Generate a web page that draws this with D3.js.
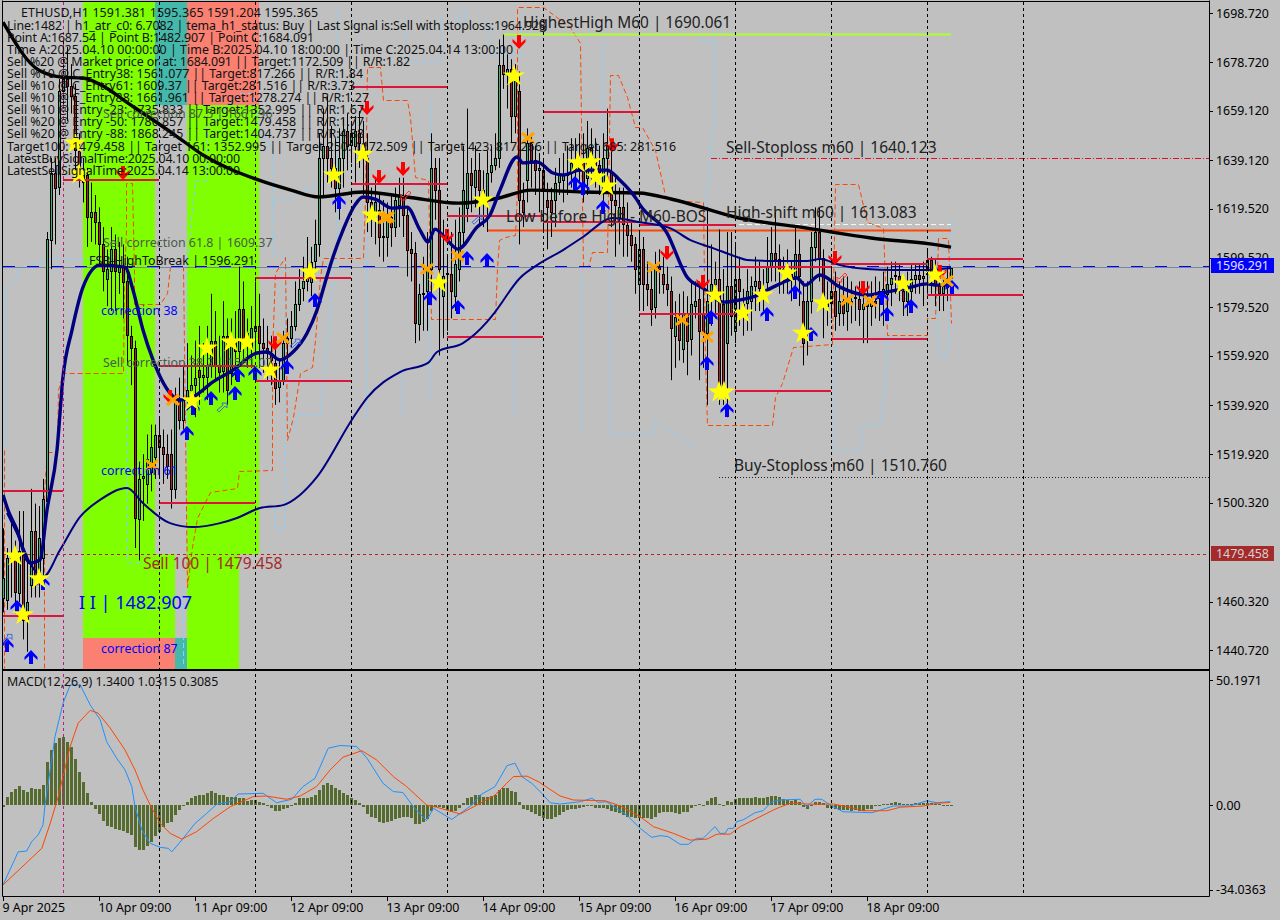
<!DOCTYPE html>
<html><head><meta charset="utf-8">
<script src="https://cdn.jsdelivr.net/npm/d3@7"></script>
<style>html,body{margin:0;padding:0;background:#c0c0c0}svg{display:block}text{font-family:"Noto Sans",Tahoma,sans-serif}</style>
</head><body><svg id="c" width="1280" height="920"></svg>
<script>
// ---- candles [open, high, low, close], by bar index
const bars9Apr = [[1462,1490,1456,1470],[1461,1482,1457,1478],[1478,1492,1462,1477],[1477,1485,1460,1464],[1464,1497,1460,1481],[1481,1497,1445,1453],[1453,1479,1440,1460],[1467,1506,1462,1489],[1489,1500,1462,1471],[1471,1499,1462,1486],[1478,1510,1470,1502],[1501,1610,1498,1607],[1607,1640,1595,1634],[1634,1640,1605,1628],[1628,1672,1625,1667]];
const bars10Apr = [[1667,1687.5,1660,1672],[1672,1685,1655,1669],[1669,1678,1658,1665],[1665,1670,1635,1643],[1643,1650,1628,1633],[1633,1640,1622,1630],[1633,1636,1604,1616],[1616,1630,1606,1618],[1618,1625,1605,1614],[1614,1620,1597,1605],[1605,1612,1586,1594],[1591,1603,1580,1595],[1594,1612,1578,1603],[1603,1609,1578,1594],[1594,1606,1585,1596],[1596,1605,1575,1590],[1590,1600,1556,1568],[1568,1572,1548,1563],[1563,1566,1482,1494],[1494,1517,1477,1510],[1510,1520,1493,1511],[1508,1528,1500,1518],[1513,1532,1505,1523],[1519,1532,1510,1528]];
const bars11Apr = [[1528,1535,1511,1523],[1523,1530,1508,1520],[1520,1528,1510,1515],[1520,1530,1498,1506],[1506,1547,1502,1542],[1542,1551,1530,1534],[1534,1556,1530,1542],[1542,1565,1538,1546],[1546,1560,1538,1548],[1548,1566,1535,1551],[1554,1572,1540,1551],[1551,1565,1545,1552],[1551,1572,1542,1556],[1556,1585,1551,1566],[1566,1578,1550,1556],[1556,1568,1545,1553],[1554,1582,1545,1568],[1568,1575,1540,1546],[1553,1575,1548,1566],[1566,1578,1550,1562],[1562,1596,1557,1579],[1579,1590,1558,1566],[1566,1575,1555,1569],[1563,1580,1555,1571]];
const bars12Apr = [[1570,1590,1560,1572],[1572,1585,1555,1565],[1565,1575,1553,1563],[1563,1572,1550,1561],[1561,1568,1548,1558],[1557,1565,1540,1547],[1547,1558,1541,1550],[1550,1570,1548,1565],[1565,1575,1555,1567],[1567,1578,1563,1572],[1572,1590,1570,1581],[1581,1595,1578,1587],[1587,1600,1582,1590],[1590,1608,1586,1593],[1590,1604,1584,1598],[1598,1615,1595,1605],[1605,1650,1600,1640],[1640,1660,1625,1645],[1645,1665,1630,1640],[1640,1653,1628,1636],[1636,1648,1618,1628],[1628,1652,1615,1640],[1640,1656,1628,1651],[1651,1658,1635,1645]];
const bars13Apr = [[1645,1655,1638,1650],[1645,1657,1630,1651],[1650,1659,1636,1646],[1646,1655,1625,1640],[1640,1650,1610,1622],[1622,1628,1608,1618],[1618,1632,1605,1622],[1619,1625,1600,1608],[1608,1623,1598,1608.5],[1608,1622,1600,1616],[1616,1625,1604,1612],[1612,1628,1608,1623],[1621,1632,1612,1625],[1625,1632,1608,1617],[1617,1620,1592,1603],[1603,1610,1590,1601.5],[1601.5,1606,1565,1573],[1573,1589,1566,1585],[1585,1600,1570,1585.5],[1586,1610,1570,1595],[1595,1650,1585,1636],[1636,1640,1615,1627],[1627,1640,1560,1595],[1584,1615,1567,1592]];
const bars14Apr = [[1593,1600,1570,1593.5],[1593,1610,1575,1586],[1584,1615,1578,1597],[1595,1620,1590,1610],[1610,1645,1605,1627],[1620,1660,1614,1634],[1634,1640,1618,1629],[1628,1645,1620,1635],[1635,1642,1612,1627],[1627,1635,1612,1625],[1623,1643,1610,1634],[1634,1645,1630,1637],[1637,1650,1635,1640],[1640,1688,1636,1677.5],[1677.5,1690,1668,1674],[1674,1682,1660,1676],[1676,1680,1646,1657],[1657,1678,1650,1671],[1667,1675,1605,1623],[1623,1630,1612,1618],[1631,1652,1622,1646],[1646,1650,1628,1639],[1639,1645,1625,1635],[1635,1642,1618,1636]];
const bars15Apr = [[1635,1640,1610,1627],[1623,1630,1603,1620],[1623,1628,1608,1618],[1623,1636,1612,1630],[1630,1640,1625,1633],[1631,1642,1622,1633],[1633,1645,1625,1634],[1634,1648,1628,1638],[1638,1648,1628,1636],[1636,1650,1630,1638],[1638,1650,1622,1630],[1632,1655,1625,1644],[1644,1652,1630,1640],[1640,1648,1628,1637],[1637,1645,1625,1634],[1626,1650,1620,1640],[1640,1660,1632,1645],[1634,1645,1612,1623],[1623,1632,1600,1621],[1616,1628,1605,1620],[1620,1628,1600,1613],[1613,1622,1600,1609],[1609,1615,1598,1605],[1605,1608,1585,1595]];
const bars16Apr = [[1589,1610,1578,1603],[1603,1608,1578,1589],[1589,1598,1580,1587],[1587,1595,1572,1579],[1580,1602,1575,1596],[1596,1603,1585,1595],[1593,1600,1585,1589],[1589,1596,1580,1587],[1586,1592,1550,1571],[1568,1582,1555,1575.5],[1575,1585,1558,1566],[1563,1586,1557,1577],[1577,1584,1552,1566],[1567,1590,1560,1581],[1580,1590,1575,1582],[1583,1590,1550,1570],[1577,1590,1555,1569],[1569,1620,1540,1582],[1586,1605,1572,1589],[1589,1598,1575,1591],[1591,1611,1540,1547],[1581,1595,1540,1547],[1565,1610,1535,1588],[1588,1610,1568,1576]];
const bars17Apr = [[1570,1605,1565,1591],[1591,1600,1572,1586],[1581,1587,1568,1578],[1581,1595,1570,1586],[1582,1592,1570,1588],[1588,1600,1578,1590],[1590,1598,1578,1587],[1587,1595,1578,1585],[1590,1608,1585,1596],[1596,1612,1590,1601.5],[1601.5,1618,1590,1599],[1599,1605,1585,1594.5],[1594.5,1600,1585,1595],[1595,1603,1585,1593],[1593,1598,1582,1592],[1592,1612,1585,1601],[1601,1607,1580,1592],[1582,1590,1556,1565],[1569,1590,1560,1582],[1582,1610,1577,1604],[1604,1620,1598,1610],[1610,1620,1590,1599.5],[1599.5,1603,1567,1580],[1580,1590,1572,1582]];
const bars18Apr = [[1581,1595,1575,1586],[1586,1594,1570,1576],[1577,1590,1572,1582],[1582,1592,1572,1577],[1578,1592,1570,1582],[1582,1590,1573,1581],[1583,1588,1574,1583.5],[1583,1590,1572,1579],[1579,1587,1565,1581],[1581,1590,1565,1580],[1580,1590,1572,1582],[1582,1592,1575,1581],[1583,1590,1574,1586],[1584,1594,1572,1587],[1585,1596,1578,1589],[1589,1598,1580,1591.5],[1592,1598,1585,1592.5],[1592,1597,1582,1590],[1586,1592,1576,1582],[1582,1594,1576,1586],[1586,1597,1580,1591],[1591,1597,1585,1592.5],[1592.5,1597,1585,1591],[1591,1598,1580,1592]];
const bars19Apr = [[1593,1603,1585,1598.5],[1598.5,1600,1585,1593],[1593,1599,1580,1589],[1588,1594,1578,1585],[1585,1592,1578,1588],[1588,1596,1582,1591.5],[1591.381,1595.365,1591.204,1595.365]];
const candles = [].concat(bars9Apr,bars10Apr,bars11Apr,bars12Apr,bars13Apr,bars14Apr,bars15Apr,bars16Apr,bars17Apr,bars18Apr,bars19Apr);

// ---- moving averages [bar, price]
const slowBlack = [[0,1695],[9,1675.5],[15,1672.7],[20,1672.4],[24,1670],[32,1661.4],[43,1649.3],[50,1641.2],[64,1631],[72,1627],[79,1624.2],[90,1626.2],[101,1624.2],[114,1621.7],[124,1623.8],[132,1627],[145,1626.2],[159,1625.8],[167,1623.4],[184,1615.7],[201,1611.6],[217,1607.6],[234,1604.7],[237,1603.9]];
const fastNavy = [[0,1503.5],[1.25,1497.4],[3.5,1489.3],[6,1477.2],[6.75,1476],[9.25,1477.2],[11,1497.4],[13.5,1521.7],[15,1551.3],[17.25,1570.3],[20,1587.7],[24.25,1596.6],[30.5,1595.8],[32.5,1586.5],[35,1570.3],[37.5,1558.2],[41.75,1544.8],[44.25,1542],[47.5,1543.2],[52.5,1549.3],[57.5,1554.1],[63.5,1561],[66,1561.4],[69.25,1558.2],[72.5,1561.4],[76,1569],[78.5,1578.4],[80.5,1589.4],[82.5,1599.9],[85,1610.8],[88,1621],[90,1624.2],[93.5,1623],[97.25,1619.7],[101,1620.1],[104.25,1610.8],[106.25,1606],[108,1611.2],[111,1606.8],[113.75,1603.1],[118.5,1612],[121.75,1616.9],[124.25,1627],[128.5,1640.4],[130,1638],[133.5,1638.4],[137.5,1633.9],[140,1633.1],[144.25,1635.1],[151,1635.1],[154.25,1631],[158.5,1623],[159.25,1621],[166,1609.6],[171,1591.8],[175,1587.3],[180,1581.6],[184.25,1582.5],[187.5,1583.7],[192.5,1587.7],[198.5,1591.4],[200.5,1588.5],[204.25,1592.6],[209.25,1587.7],[216,1584.5],[219.25,1585.3],[226,1587.3],[231,1589],[233.5,1588.5],[236.75,1588.5]];
const midNavy = [[1,1496.2],[4.25,1485.3],[6.75,1476],[10,1470.3],[14.25,1481.2],[19.25,1494.6],[24.25,1501.5],[31,1506.3],[35,1500.2],[41.75,1492.1],[47.5,1490.5],[54.25,1492.1],[58.5,1494.2],[64.25,1498.2],[70,1499.4],[74.25,1503.5],[78.5,1510.8],[87.5,1534.7],[91,1542.8],[99.25,1553.3],[106.25,1557],[108.5,1561.4],[115,1565],[121,1573.6],[123,1577.6],[129.25,1591.4],[133.5,1596.6],[140,1602.7],[145,1608],[152.5,1615.7],[159.25,1614],[166.75,1611.6],[171.75,1606.8],[177.5,1603.5],[183.5,1599.9],[186,1598.7],[192.5,1598.3],[201,1598.3],[204.25,1599.1],[209.25,1596.6],[216,1595],[222.5,1594.6],[231,1594.6],[237,1595.4]];

// ---- stepped envelopes [bar, price]
const orangeEnvLeft = [[0.25,1521.7],[0.25,1433.4]];
const orangeEnv = [[10.25,1433.4],[10.25,1505.5],[11,1520.9],[13.5,1520.9],[13.75,1546],[15,1552.9],[30,1552.9],[30.25,1591.4],[30.75,1610.8],[30.75,1629.9],[32.25,1629.9],[32.75,1593.4],[32.75,1580.8],[39.25,1580.8],[41,1585.3],[41.75,1595.8],[45,1595.8],[46,1466.2],[47.25,1482.4],[48.5,1494.2],[51.75,1504.7],[58.5,1506.3],[59,1513.2],[67.25,1513.6],[67.25,1561],[68,1593.4],[70.5,1599.9],[71,1525.8],[72.5,1535.1],[74.25,1552.9],[77.25,1555.3],[78,1566.3],[79.25,1591.8],[80,1599.5],[90,1599.5],[90.5,1623],[91,1676.8],[94.25,1676.8],[95,1663.5],[101,1663.5],[101.75,1656.6],[103,1632.3],[106.25,1631],[107,1574.8],[123,1574.8],[123.5,1595.4],[124,1606.8],[125.5,1608],[128,1608.8],[128.5,1627],[128.5,1701],[135,1701],[141.75,1693],[144.25,1686.5],[144.75,1623],[145,1595.8],[146.25,1595.8],[147.25,1601.9],[151,1601.9],[151.25,1623],[151.75,1673.6],[153.75,1673.6],[156,1664.7],[158,1652.5],[159.75,1652.5],[163,1643.2],[165.5,1625],[166.75,1623],[175,1622.2],[175.5,1559.4],[176,1531.8],[192.25,1531.8],[193,1543.2],[194.75,1548.9],[197.5,1563.4],[207.25,1564.6],[208,1629.4],[213.75,1629.4],[216,1614],[220,1611.6],[221,1568.3],[231,1568.3],[231,1575.2],[233,1575.2],[233.5,1593.4],[233.75,1607.6],[236.25,1607.6],[237,1573.2]];
const blueEnvA = [[0.5,1586.5],[0.5,1493.4]];
const blueEnvB = [[0.5,1586.5],[3,1590.6],[3.5,1594.6],[10,1598.7],[15,1599.5],[31,1599.5],[31,1476.4],[35,1476.4]];
const blueEnvC = [[45,1435.4],[45,1466.2]];
const blueEnvD = [[45.75,1517.7],[45.75,1594.6],[48,1631],[51,1631],[51,1652.5],[53.5,1656.6],[59.25,1666.3],[62.25,1666.3],[64.25,1650.1],[67.25,1644.4],[67.5,1601.5],[70.5,1599.9],[70.5,1490.1],[68,1490.1],[68,1498.6]];
const blueEnvE = [[67.25,1623],[72.5,1624.2],[76.75,1628.2],[79.25,1628.2]];
const blueEnvF = [[72.5,1529.8],[73.5,1535.9],[79.25,1535.9],[83.5,1610.8],[83.5,1699.9]];
const blueEnvG = [[91,1663.5],[91,1533.9]];
const blueEnvH = [[100,1554.1],[100,1533.9]];
const blueEnvI = [[106.25,1595.8],[106.25,1542]];
const blueEnvJ = [[106.75,1663.5],[106.75,1616.1]];
const blueEnvK = [[100.5,1695.9],[100.5,1679.7],[109.25,1679.7],[109.25,1697.9]];
const blueEnvL = [[113.75,1701],[113.75,1694.7],[115.5,1694.7],[115.5,1701]];
const blueEnvM = [[121,1695.9],[121.75,1681.7],[129.25,1681.7],[129.25,1695.9]];
const blueEnvN = [[128,1618.9],[128,1533.9]];
const blueEnvO = [[150,1687.8],[150,1610.8]];
const blueEnvP = [[144.25,1592.6],[144.25,1529.8]];
const blueEnvQ = [[151.75,1594.6],[151.75,1527.8],[161.75,1527.8],[163,1533.9],[174.25,1521.7]];
const blueEnvR = [[174.25,1687.8],[178,1687.8],[178,1663.5],[176,1627],[176,1582.5]];
const blueEnvS = [[208,1564.6],[208,1521.7],[214.25,1521.7],[214.25,1531.8],[219.25,1531.8],[221,1558.2],[221,1590.6]];
const blueEnvT = [[233,1609.6],[233.75,1559.4],[236,1559.4],[237,1595.8],[237,1616.1]];
const blueEnvs = [blueEnvA,blueEnvB,blueEnvC,blueEnvD,blueEnvE,blueEnvF,blueEnvG,blueEnvH,blueEnvI,blueEnvJ,blueEnvK,blueEnvL,blueEnvM,blueEnvN,blueEnvO,blueEnvP,blueEnvQ,blueEnvR,blueEnvS,blueEnvT];

// ---- signal markers [bar, price]
const starSignals = [[3,1478.8],[5,1455],[9,1469.5],[18,1646],[19,1633.5],[47.25,1541.6],[51,1563],[57,1565.4],[61,1565.4],[66.75,1554.1],[76.75,1593.8],[82.75,1633.1],[90,1641.6],[92.25,1616.9],[109,1589.4],[120,1623],[127.75,1673.2],[143.75,1638],[147,1638.4],[148.25,1632.3],[151,1628.6],[178,1584.5],[179,1545.2],[180.25,1545.2],[185,1577.2],[190,1584.5],[196,1593.4],[200,1569],[205,1581.2],[225,1588.9],[233,1592.6]];
const buyArrows = [[3.5,1458.1],[1,1442.7],[7,1437.9],[10,1467.9],[46,1528.6],[47.5,1538.7],[52,1542.8],[58,1544.8],[58.75,1552.1],[63,1552.9],[71,1555.3],[78,1582.5],[84,1622.2],[106.75,1583.3],[113.75,1579.6],[116,1599.5],[121,1598.7],[143,1629.9],[145,1627.8],[150,1620.1],[176,1557],[177,1575.6],[181,1537.9],[191,1576.8],[198,1585.7],[202,1568.7],[219.75,1583.3],[221,1576.8],[227,1580],[237.25,1587.7]];
const sellArrows = [[30,1633.9],[41.75,1543.2],[68,1565],[91,1660.2],[94,1632.3],[100,1635.5],[111,1608.4],[129,1687],[152.25,1645.2],[166,1601.5],[175,1589.8],[208,1599.5],[215,1587.3],[234.25,1593.8]];
const crossMarks = [[37.25,1515.6],[42.5,1542],[70,1567.1],[95.5,1615.7],[96.25,1616.1],[106,1595],[113.75,1600.3],[131.25,1648.1],[162.75,1595.8],[169.75,1574.4],[176,1567.5],[211,1582.5],[216.75,1582.1],[236,1590.2]];
const hollowBuy = [[54.75,1538.7],[73,1564.6],[118.5,1614.8],[1,1445]];
const hollowSell = [[100.75,1625],[209.75,1591.8]];

// ---- horizontal levels [from bar, to bar, price]
const crimsonLevels = [[0,15,1505.1],[0,15,1454.5],[15,39,1631.1],[39,63,1555.7],[39,63,1500.3],[63,87,1591.4],[63,87,1549.7],[87,111,1668.7],[87,111,1629.4],[111,135,1616.5],[111,135,1567.5],[135,159,1658.6],[135,159,1614],[159,183,1576.8],[159,183,1612.8],[183,207,1595.8],[183,207,1545.6],[207,231,1597],[207,231,1566.7],[231,255,1599.1],[231,255,1584.5]];

// ---- zones [from bar, to bar, top price, bottom price, colour]
const zones = [[20,38,1705,1479.458,"#7fff00"],[20,43,1479.458,1445.6,"#7fff00"],[20,43,1445.6,1430,"#fa8072"],[43,46,1445.6,1430,"#45b8ac"],[38,46,1705,1661.4,"#45b8ac"],[46,64,1705,1661.4,"#fa8072"],[46,64,1661.4,1479.458,"#7fff00"],[46,59,1479.458,1430,"#7fff00"]];

// ---- MACD
const macdHist = [-0.7,3.3,5.1,6.4,7.6,6,5.4,6.7,6.3,6.4,8,17.4,22.1,24.8,26.8,27.2,25.4,23.4,18.5,13.4,9.4,4.7,1.3,-1.6,-3.7,-6.4,-8.3,-8.7,-9.8,-10,-10.4,-11.4,-12,-16.7,-18.1,-18.1,-16.3,-15,-12.3,-10.7,-8.7,-7.4,-6.7,-4,-2,-0.3,1.3,2.9,3.6,4,4,4.7,5.6,4.7,4,4,3.3,3.3,3.3,2.9,2.7,1.6,2,2,1.1,0.7,-0.3,-1.1,-2.4,-2.4,-1.6,-1.1,-0.4,0.7,2.7,2.9,2.9,3.3,4,6,8,8.7,8,7,6,4.7,4,2.9,2,0.9,-0.7,-3.7,-4.7,-5.4,-7,-7.1,-7,-6.4,-5.6,-5.1,-4.7,-5,-5.4,-7.5,-7.5,-7,-5.6,-2.4,-0.7,-0.7,-1.3,-2,-2.9,-2.4,-1.3,0.7,2.7,3.3,4,4,
3.3,3.3,3.8,4,6,6.7,6.7,5.6,5.1,1.3,-1.6,-2,-2.7,-3.7,-4.3,-5.4,-5.6,-5.6,-4.7,-4,-2.7,-2,-1.6,-1.6,-1.3,-0.7,-0.3,-0.3,-1.1,-1.1,-1.1,-1.6,-2.4,-2.7,-3.3,-4,-4.7,-4.7,-5.1,-5.1,-5.1,-5.4,-5.6,-4.7,-3.3,-2.7,-2.9,-2.9,-3.3,-3.6,-2.9,-2.7,-1.3,-0.3,0.3,-0.3,1.6,2.7,3.3,0.4,-0.3,1.6,1.3,2.4,2.7,2.7,2.9,2.9,3.3,2.9,2.9,3.3,3.8,3.8,3.3,2.4,2,1.6,2,1.3,-0.9,-1.6,-0.3,1.3,1.3,0.7,-1.1,-1.3,-1.6,-2,-2,-2,-2.4,-2,-2.4,-2.4,-1.6,-1.6,-0.4,-0.3,0.3,0.3,0.8,1.2,0.7,0.3,0.3,0.3,0.7,0.8,0.8,0.7,0.8,0.4,0.3,-0.3,-0.1,-0.1];
const macdLine = [[0,-32.1],[3.8,-18.8],[5.9,-18.5],[7.2,-14.7],[8.8,-12],[10,-8],[10.5,0],[11.8,14.1],[13,27.5],[15,40.8],[16.8,48.2],[19.3,48.2],[21.8,40.2],[24.3,34.2],[25.9,25.5],[28.4,18.8],[30.5,14.1],[32.2,7.4],[33,-0.7],[34.7,-10],[36.8,-15.4],[39.3,-17],[41.3,-17.4],[42.2,-18.8],[44.7,-14.1],[48,-7.4],[50.9,-3.4],[53.4,0.3],[56.8,1.3],[58.8,4.4],[65,4.7],[68.4,0.9],[72.2,2.3],[75,7.4],[78,10.7],[81.3,22.8],[84.3,23.9],[88.4,23.5],[91,18.8],[95,8.7],[97.6,5.4],[100,5],[102.6,-0.7],[105.9,-6.3],[107.6,-1.3],[112.2,-5.8],[115.5,-2],[117.2,0],[119.3,4],[123,7.4],[126,15.8],[128,16.8],[129.7,11.4],[132.2,8.7],[134.7,4.7],[136.8,0.9],[139.3,0.4],[144.3,1.3],[147.2,2.7],[148.8,1.1],[150.9,1.3],[155.9,-4],[159.3,-9.4],[162.2,-13],[164.3,-12.3],[166.3,-12.7],[169.3,-15.8],[171.3,-15.8],[173.4,-13.4],[175,-13.4],[178,-8.7],[179.3,-11.4],[180.5,-11.4],[181.3,-9.4],[182.6,-9.4],[183.4,-6.7],[185,-6],[188,-3.1],[190,-2.3],[192.2,1.3],[194.2,2],[199.3,2.3],[200.9,-0.7],[203,2.3],[204.7,2.3],[206.8,0],[210,-2.7],[217.2,-3.1],[222.6,-0.4],[226.8,-0.4],[231,1.7],[233.5,0.9],[236.8,1.34]];
const macdSignal = [[0,-32.1],[9.7,-17.4],[11.8,-7.4],[13.8,3.3],[15,11.4],[16.8,23.5],[18.8,32.9],[21.8,38],[23.8,36.9],[26.8,30.9],[30.5,22.1],[33,14.1],[35,6],[36.8,0],[39.3,-7.4],[41.8,-11.4],[44.7,-13.7],[48.4,-10.7],[52.6,-5.4],[56.8,-0.7],[62.6,3.4],[65.9,3.6],[70.9,2.3],[74.3,3.6],[78.4,7.4],[81.8,14.1],[85,19.2],[89.7,21.8],[93.4,18.1],[97.6,11.4],[100.9,7.4],[105.9,0],[108.4,-0.9],[114.3,-3.6],[119.3,0.7],[123,4],[127.6,11.4],[131,11.6],[133.8,9.4],[139.3,3.6],[142.6,2],[150.6,1.7],[154.3,-0.4],[159.3,-4.7],[162.6,-8.7],[167.6,-11.4],[171.8,-14.1],[176,-13.7],[178.5,-11.7],[181.8,-11.7],[184.3,-8.7],[192.6,-2],[194.2,-0.9],[196.8,0.7],[202.6,0.3],[207.6,0.4],[211,-0.7],[215.1,-2.3],[221,-2.3],[224.3,-0.9],[230.1,-0.4],[233.5,0.7],[236.8,1.03]];

// ---- axis labels
const priceTicks = [1698.72,1678.72,1659.12,1639.12,1619.52,1599.52,1579.52,1559.92,1539.92,1519.92,1500.32,1460.32,1440.72];
const macdTicks = [50.1971,0,-34.0363];
const macdTickLabels = ["50.1971","0.00","-34.0363"];
const timeTickBars = [0,24,48,72,96,120,144,168,192,216];
const timeTickLabels = ["9 Apr 2025","10 Apr 09:00","11 Apr 09:00","12 Apr 09:00","13 Apr 09:00","14 Apr 09:00","15 Apr 09:00","16 Apr 09:00","17 Apr 09:00","18 Apr 09:00"];
const dayBreakBars = [15,39,63,87,111,135,159,183,207,231,255];
const bidPrice = 1596.291, sellPrice = 1479.458;
const infoLines = [
"Line:1482 | h1_atr_c0: 6.7082 | tema_h1_status: Buy | Last Signal is:Sell with stoploss:1964.928",
"Point A:1687.54 | Point B:1482.907 | Point C:1684.091",
"Time A:2025.04.10 00:00:00 | Time B:2025.04.10 18:00:00 | Time C:2025.04.14 13:00:00",
"Sell %20 @ Market price or at: 1684.091 || Target:1172.509 || R/R:1.82",
"Sell %10 @ C_Entry38: 1561.077 || Target:817.266 || R/R:1.84",
"Sell %10 @ C_Entry61: 1609.37 || Target:281.516 || R/R:3.73",
"Sell %10 @ C_Entry88: 1661.961 || Target:1278.274 || R/R:1.27",
"Sell %10 @ Entry -23: 1735.833 || Target:1352.995 || R/R:1.67",
"Sell %20 @ Entry -50: 1780.857 || Target:1479.458 || R/R:1.77",
"Sell %20 @ Entry -88: 1868.245 || Target:1404.737 || R/R:4.88",
"Target100: 1479.458 || Target 161: 1352.995 || Target 250: 1172.509 || Target 423: 817.266 || Target 685: 281.516",
"LatestBuySignalTime:2025.04.10 00:00:00",
"LatestSellSignalTime:2025.04.14 13:00:00"];
const infoWidths = [539,307,506,403,356,348,362,357,357,357,669,233,233];
const chartTitle = "ETHUSD,H1  1591.381 1595.365 1591.204 1595.365";
const macdTitle = "MACD(12,26,9) 1.3400 1.0315 0.3085";

const svg = d3.select("#c");
const x = d3.scaleLinear().domain([0,250]).range([3,1003]);
const y = d3.scaleLinear().domain([1698.72,1440.72]).range([13,650]);
const ym = d3.scaleLinear().domain([50.1971,0]).range([680,805]);
const PANE = {l:3,r:1209,t:2,b:669,mt:672,mb:895};
const px = v=>Math.round(x(v))+0.5;
const hy = v=>Math.round(y(v))+0.5;

svg.append("rect").attr("width",1280).attr("height",920).attr("fill","#c0c0c0");
const defs = svg.append("defs");
defs.append("clipPath").attr("id","pMain").append("rect").attr("x",PANE.l).attr("y",PANE.t).attr("width",PANE.r-PANE.l).attr("height",PANE.b-PANE.t);
defs.append("clipPath").attr("id","pMacd").append("rect").attr("x",PANE.l).attr("y",PANE.mt).attr("width",PANE.r-PANE.l).attr("height",PANE.mb-PANE.mt);
const g = svg.append("g").attr("clip-path","url(#pMain)");
const gm = svg.append("g").attr("clip-path","url(#pMacd)");

// zones
g.selectAll(".z").data(zones).join("rect").attr("x",d=>x(d[0])).attr("width",d=>x(d[1])-x(d[0]))
 .attr("y",d=>y(d[2])).attr("height",d=>y(d[3])-y(d[2])).attr("fill",d=>d[4]);

// day separators, both panes
svg.selectAll(".v").data(dayBreakBars).join("line").attr("x1",d=>px(d)).attr("x2",d=>px(d)).attr("y1",PANE.t).attr("y2",PANE.mb)
 .attr("stroke",d=>d===15?"#c71585":"#000").attr("stroke-width",1).attr("stroke-dasharray","3,3");

const line = d3.line().x(d=>Math.round(x(d[0]))+.5).y(d=>Math.round(y(d[1]))+.5);
// stepped envelopes
g.selectAll(".be").data(blueEnvs).join("path").attr("d",line).attr("fill","none").attr("stroke","#87cefa").attr("stroke-width",1).attr("stroke-dasharray","5,3").attr("shape-rendering","crispEdges");
g.selectAll(".oe").data([orangeEnvLeft,orangeEnv]).join("path").attr("d",line).attr("fill","none").attr("stroke","#ff4500").attr("stroke-width",1).attr("stroke-dasharray","5,3");

// bid & sell lines
g.append("line").attr("x1",PANE.l).attr("x2",PANE.r).attr("y1",hy(bidPrice)+1).attr("y2",hy(bidPrice)+1).attr("stroke","#778899");
g.append("line").attr("x1",PANE.l).attr("x2",PANE.r).attr("y1",hy(bidPrice)).attr("y2",hy(bidPrice)).attr("stroke","#0000ff").attr("stroke-dasharray","12,12");
g.append("line").attr("x1",PANE.l).attr("x2",PANE.r).attr("y1",hy(sellPrice)).attr("y2",hy(sellPrice)).attr("stroke","#b22222").attr("stroke-dasharray","3,3");

// fixed levels
g.append("line").attr("x1",x(125)).attr("x2",x(237)).attr("y1",hy(1690.061)).attr("y2",hy(1690.061)).attr("stroke","#adff2f").attr("stroke-width",2);
g.append("line").attr("x1",x(177)).attr("x2",PANE.r).attr("y1",hy(1640.123)).attr("y2",hy(1640.123)).attr("stroke","#e0102c").attr("stroke-dasharray","6,2,1,2");
g.append("line").attr("x1",x(179)).attr("x2",PANE.r).attr("y1",hy(1510.76)).attr("y2",hy(1510.76)).attr("stroke","#222").attr("stroke-dasharray","1,2");
g.append("line").attr("x1",x(121)).attr("x2",x(237)).attr("y1",hy(1610.9)).attr("y2",hy(1610.9)).attr("stroke","#ff4500").attr("stroke-width",2);
g.append("line").attr("x1",x(174)).attr("x2",x(237)).attr("y1",hy(1613.083)).attr("y2",hy(1613.083)).attr("stroke","#f5f5f5").attr("stroke-dasharray","5,3");

// candles
const cg = g.selectAll(".cd").data(candles).join("g");
cg.append("line").attr("x1",(d,i)=>px(i)).attr("x2",(d,i)=>px(i)).attr("y1",d=>y(d[1])).attr("y2",d=>y(d[2])).attr("stroke","#000");
cg.append("rect").attr("x",(d,i)=>px(i)-1).attr("width",2)
 .attr("y",d=>Math.round(y(Math.max(d[0],d[3])))+0.5)
 .attr("height",d=>Math.max(1,Math.round(Math.abs(y(d[0])-y(d[3])))))
 .attr("fill",d=>d[3]>=d[0]?"#3cb371":"#b22222").attr("stroke","#000");

// crimson levels
g.selectAll(".cl").data(crimsonLevels).join("line").attr("x1",d=>x(d[0])).attr("x2",d=>x(d[1])).attr("y1",d=>Math.round(y(d[2]))).attr("y2",d=>Math.round(y(d[2]))).attr("stroke","#dc143c").attr("stroke-width",2);

// averages
const curve = d3.line().x(d=>x(d[0])).y(d=>y(d[1])).curve(d3.curveMonotoneX);
g.append("path").attr("d",curve(midNavy)).attr("fill","none").attr("stroke","#000080").attr("stroke-width",2);
g.append("path").attr("d",curve(slowBlack)).attr("fill","none").attr("stroke","#000").attr("stroke-width",3.4);
g.append("path").attr("d",curve(fastNavy)).attr("fill","none").attr("stroke","#000080").attr("stroke-width",3.4);

// markers
const arrowUp = "M0,-7L6.5,0L6.5,3L2,-1L2,7L-2,7L-2,-1L-6.5,3L-6.5,0Z";
g.selectAll(".ba").data(buyArrows).join("path").attr("d",arrowUp).attr("fill","#0000ff").attr("transform",d=>`translate(${x(d[0])},${y(d[1])})`);
g.selectAll(".sa").data(sellArrows).join("path").attr("d",arrowUp).attr("fill","#ff0000").attr("transform",d=>`translate(${x(d[0])},${y(d[1])}) scale(1,-1)`);
const star = d3.symbol().type(d3.symbolStar).size(150);
g.selectAll(".st").data(starSignals).join("path").attr("d",star).attr("fill","#ffff00").attr("transform",d=>`translate(${x(d[0])},${y(d[1])})`);
g.selectAll(".cx").data(crossMarks).join("path").attr("d","M-6,-5L6,5M-6,5L6,-5").attr("fill","none").attr("stroke","#ffa500").attr("stroke-width",3.2).attr("transform",d=>`translate(${x(d[0])},${y(d[1])})`);
const hollow = "M0,-5L5,-5L5,0L3,-2L-3,4L-5,2L1,-3Z";
g.selectAll(".hb").data(hollowBuy).join("path").attr("d",hollow).attr("fill","none").attr("stroke","#4169e1").attr("transform",d=>`translate(${x(d[0])},${y(d[1])})`);
g.selectAll(".hs").data(hollowSell).join("path").attr("d",hollow).attr("fill","none").attr("stroke","#ff3030").attr("transform",d=>`translate(${x(d[0])},${y(d[1])}) rotate(180)`);

// MACD pane
gm.selectAll(".h").data(macdHist).join("rect").attr("x",(d,i)=>Math.round(x(i))-1).attr("width",3)
 .attr("y",d=>Math.round(d>=0?ym(d):ym(0))).attr("height",d=>Math.max(1,Math.round(Math.abs(ym(d)-ym(0))))).attr("fill","#556b2f");
const ml = d3.line().x(d=>x(d[0])).y(d=>ym(d[1]));
gm.append("path").attr("d",ml(macdLine)).attr("fill","none").attr("stroke","#1e90ff");
gm.append("path").attr("d",ml(macdSignal)).attr("fill","none").attr("stroke","#ff4500");

// frame
const frame = svg.append("g").attr("stroke","#000").attr("stroke-width",1);
[[2.5,0.5,2.5,896.5],[1209.5,0.5,1209.5,896.5],[2.5,1.5,1209.5,1.5],[2.5,669.5,1209.5,669.5],[2.5,670.5,1209.5,670.5],[2.5,896.5,1209.5,896.5]]
 .forEach(a=>frame.append("line").attr("x1",a[0]).attr("y1",a[1]).attr("x2",a[2]).attr("y2",a[3]));

// price axis
const FS = 12.4;
const ax = svg.append("g").attr("font-size",FS).attr("fill","#000");
priceTicks.forEach(t=>{
 ax.append("line").attr("x1",1210).attr("x2",1213).attr("y1",Math.round(y(t))+.5).attr("y2",Math.round(y(t))+.5).attr("stroke","#000");
 ax.append("text").attr("x",1216).attr("y",y(t)+4.5).text(t.toFixed(3));
});
macdTicks.forEach((t,i)=>{
 ax.append("line").attr("x1",1210).attr("x2",1213).attr("y1",Math.round(ym(t))+.5).attr("y2",Math.round(ym(t))+.5).attr("stroke","#000");
 ax.append("text").attr("x",1216).attr("y",ym(t)+4.5).text(macdTickLabels[i]);
});
timeTickBars.forEach((b,i)=>{
 ax.append("line").attr("x1",px(b)).attr("x2",px(b)).attr("y1",897).attr("y2",901).attr("stroke","#000");
 ax.append("text").attr("x",px(b)-1).attr("y",912).text(timeTickLabels[i]);
});
// price tags
const tag = (p,bg,fg)=>{
 const yy=Math.round(y(p));
 svg.append("rect").attr("x",1211).attr("y",yy-8).attr("width",63).attr("height",15).attr("fill",bg);
 svg.append("text").attr("x",1216).attr("y",yy+4).attr("font-size",FS).attr("fill",fg).text(p.toFixed(3));
};
tag(bidPrice,"#0000ff","#e0e0ff");
tag(sellPrice,"#a52a2a","#d3d3d3");

// top info text
const info = svg.append("g").attr("font-size",FS).attr("fill","#111");
info.append("text").attr("x",21).attr("y",17).attr("textLength",297).text(chartTitle);
infoLines.forEach((t,i)=>info.append("text").attr("x",7).attr("y",29.5+i*12.1).attr("textLength",infoWidths[i]).text(t));
svg.append("text").attr("x",7).attr("y",686).attr("font-size",FS).attr("fill","#111").text(macdTitle);

// chart object labels [text, bar, price, size, colour]
const labels = [
["Sell correction 87.5 | 1661.96",25,1658.2,12.4,"#4a5a4a"],
["Sell correction 61.8 | 1609.37",25,1605.7,12.4,"#4a5a4a"],
["FSB-HighToBreak | 1596.291",21.5,1598.6,12.4,"#111"],
["correction 38",24.5,1578.2,12.4,"#0000ff"],
["Sell correction 38.2 | 1561.07",25,1557.4,12.4,"#4a5a4a"],
["correction 61",24.5,1513.4,12.4,"#0000ff"],
["Sell 100 | 1479.458",35,1475.9,15.6,"#a52a2a"],
["I I | 1482.907",19,1460.2,18,"#0000ff"],
["correction 87",24.5,1441.6,12.4,"#0000ff"],
["HighestHigh     M60 | 1690.061",130,1695,15.4,"#222"],
["Sell-Stoploss m60 | 1640.123",180.75,1644.4,15.5,"#222"],
["Low before High - M60-BOS",125.75,1616.4,15.5,"#222"],
["High-shift m60 | 1613.083",180.75,1618,15.5,"#222"],
["Buy-Stoploss m60 | 1510.760",182.75,1515.8,15.5,"#222"]];
svg.append("g").selectAll("text").data(labels).join("text").attr("x",d=>x(d[1])).attr("y",d=>y(d[2])+d[3]*0.38).attr("font-size",d=>d[3]).attr("fill",d=>d[4]).text(d=>d[0]);
</script></body></html>
